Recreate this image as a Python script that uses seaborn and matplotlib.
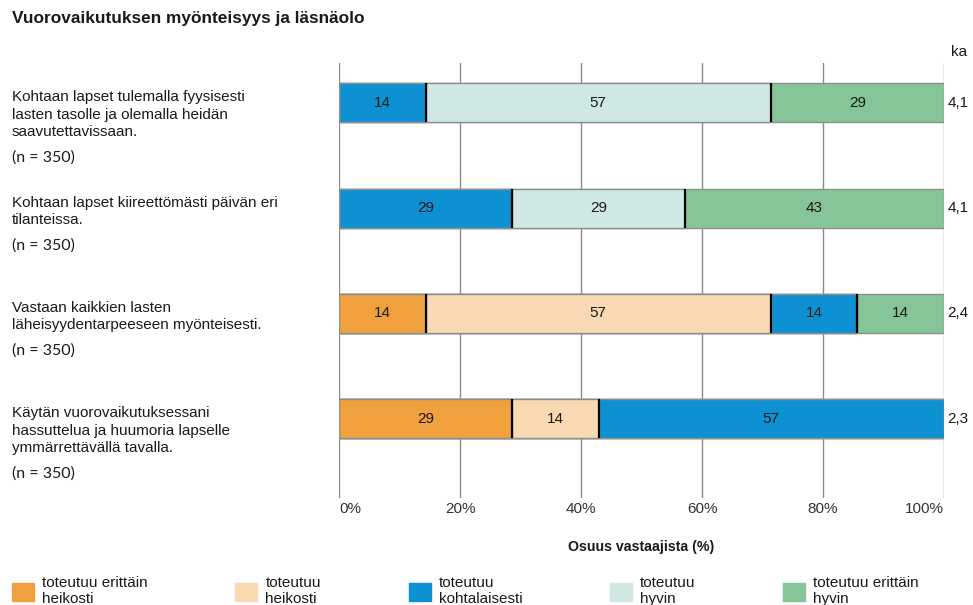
#Vuorovaikutuksen myonteisyys ja lasnaolo - stacked bars

#LIBRARIES
import numpy as np
import pandas as pd
import matplotlib
matplotlib.use('Agg')
import matplotlib.pyplot as plt
import seaborn as sns
from matplotlib import patches as mpatches

#DATA
questions = ['Kohtaan lapset tulemalla fyysisesti\nlasten tasolle ja olemalla heidän\nsaavutettavissaan.',
             'Kohtaan lapset kiireettömästi päivän eri\ntilanteissa.',
             'Vastaan kaikkien lasten\nläheisyydentarpeeseen myönteisesti.',
             'Käytän vuorovaikutuksessani\nhassuttelua ja huumoria lapselle\nymmärrettävällä tavalla.']
n_resp = [350, 350, 350, 350]
categories = ['toteutuu erittäin heikosti', 'toteutuu heikosti', 'toteutuu kohtalaisesti',
              'toteutuu hyvin', 'toteutuu erittäin hyvin']
#shares (%) per category, one list per category
erittain_heikosti = [0.0, 0.0, 14.3, 28.6]
heikosti = [0.0, 0.0, 57.1, 14.3]
kohtalaisesti = [14.3, 28.6, 14.3, 57.1]
hyvin = [57.1, 28.6, 0.0, 0.0]
erittain_hyvin = [28.6, 42.8, 14.3, 0.0]
ka = ['4,1', '4,1', '2,4', '2,3']
xticks = [0, 20, 40, 60, 80, 100]
xticklabels = ['0%', '20%', '40%', '60%', '80%', '100%']

colors = ['#F0A13E', '#F8D9B2', '#0E91D2', '#CFE8E4', '#86C598']

#Build table
shares = np.array([erittain_heikosti, heikosti, kohtalaisesti, hyvin, erittain_hyvin]).T
cum = shares.cumsum(axis=1)
df = pd.DataFrame(cum, columns=categories)
df['q'] = ['q%d' % i for i in range(len(questions))]

#PLOT
sns.set_style('white')
plt.rcParams['font.family'] = ['Liberation Sans', 'DejaVu Sans']
txt_col = '#1a1a1a'

fig = plt.figure(figsize=(9.73, 6.05), dpi=100)
ax = fig.add_axes([339/973, 1-498/605, 605/973, 435/605])

bar_h = 0.37
#draw cumulative bars from the longest to the shortest
for k in range(len(categories)-1, -1, -1):
    sns.barplot(data=df, x=categories[k], y='q', order=df['q'], orient='h', color=colors[k],
                width=bar_h, edgecolor='#8e8e8e', linewidth=1, saturation=1, ax=ax)

#black separators between segments + value labels
for i in range(len(questions)):
    for k in range(len(categories)):
        v = shares[i, k]
        if v <= 0:
            continue
        ax.text(cum[i, k]-v/2, i, '%d' % round(v), ha='center', va='center', fontsize=11, color=txt_col)
        if cum[i, k] < 99.5:
            ax.vlines(cum[i, k], i-bar_h/2, i+bar_h/2, color='black', lw=1.6, zorder=5)
    #mean value on the right
    ax.text(1.006, i, ka[i], transform=ax.get_yaxis_transform(), ha='left', va='center', fontsize=11, color=txt_col)
    #question text + n
    lab = ax.annotate(questions[i], xy=(12/973, i-bar_h/2), xycoords=('figure fraction', 'data'),
                      xytext=(0, -5), textcoords='offset points', ha='left', va='top',
                      fontsize=11, linespacing=1.32, color=txt_col, annotation_clip=False)
    ax.annotate('(n = %d)' % n_resp[i], xy=(0, 0), xycoords=lab, xytext=(0, -8),
                textcoords='offset points', ha='left', va='top', fontsize=11.5,
                family=['Lato', 'DejaVu Sans'], color=txt_col, annotation_clip=False)

ax.text(1.012, 1.01, 'ka', transform=ax.transAxes, ha='left', va='bottom', fontsize=11, color=txt_col)

#axes
ax.set_xlim(0, 100)
ax.set_ylim(3.753, -0.378)
ax.set_yticks([])
ax.set_ylabel('')
ax.set_xticks(xticks)
ax.set_xticklabels(xticklabels, fontsize=11, color='#333333')
tl = ax.get_xticklabels()
tl[0].set_ha('left')
tl[-1].set_ha('right')
ax.tick_params(axis='x', length=0, pad=3)
ax.set_xlabel('Osuus vastaajista (%)', fontsize=10.2, fontweight='bold', color=txt_col, labelpad=17)
ax.set_axisbelow(True)
ax.grid(axis='x', color='#8c8c8c', lw=1)
ax.grid(axis='y', visible=False)
sns.despine(ax=ax, left=True, bottom=True)

#title
fig.text(12/973, 1-18/605, 'Vuorovaikutuksen myönteisyys ja läsnäolo', ha='left', va='center',
         fontsize=12.4, fontweight='bold', color=txt_col)

#legend
handles = [mpatches.Patch(color=colors[k], label=categories[k].rsplit(' ', 1)[0]+'\n'+categories[k].rsplit(' ', 1)[1])
           for k in range(len(categories))]
fig.legend(handles=handles, loc='upper left', bbox_to_anchor=(12/973, 1-576/605), ncol=5, frameon=False,
           fontsize=11, handlelength=1.44, handleheight=1.44, handletextpad=0.52, columnspacing=5.75,
           borderpad=0, borderaxespad=0, labelcolor=txt_col)

plt.savefig('out.png', dpi=100)
